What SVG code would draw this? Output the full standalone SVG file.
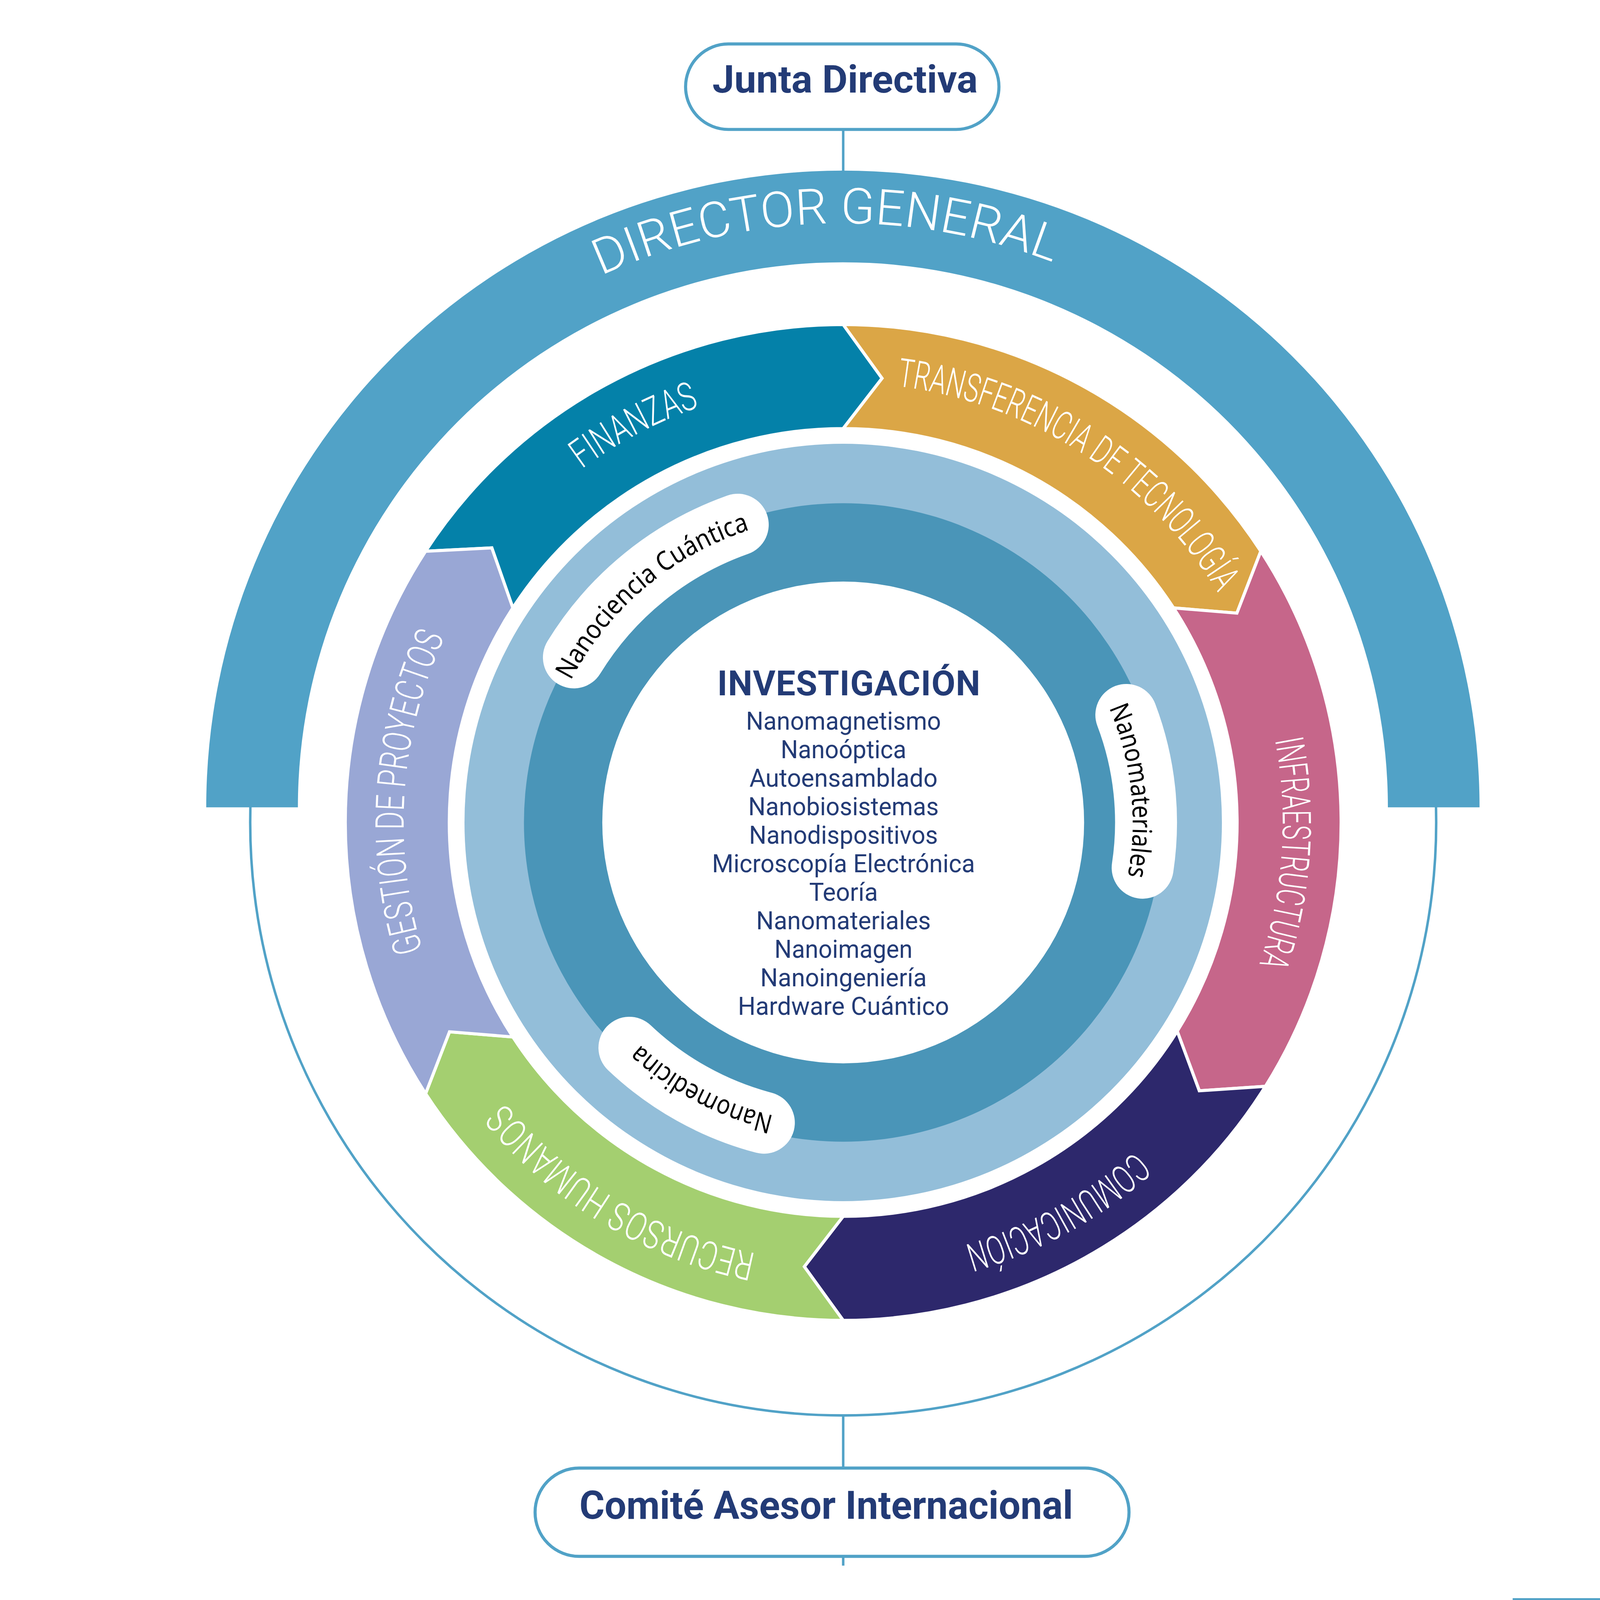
<svg xmlns="http://www.w3.org/2000/svg" width="5167" height="5167" viewBox="0 0 5167 5167">
<style>
svg{width:100vw;height:100vh}
.seg{stroke:#fff;stroke-width:10;stroke-linejoin:miter}
.seglbl{font-family:Roboto,"Liberation Sans",sans-serif;font-weight:300;font-size:128px;fill:#fff;text-anchor:middle}
.pill{fill:none;stroke:#fff;stroke-width:200;stroke-linecap:round}
.pilltxt{font-family:"Noto Sans","Liberation Sans",sans-serif;font-size:86px;fill:#000;text-anchor:middle}
.box{fill:#fff;stroke:#51A2C7;stroke-width:10}
.boxtxt{font-family:Roboto,"Liberation Sans",sans-serif;font-weight:700;fill:#233B76;text-anchor:middle}
.item{font-family:Roboto,"Liberation Sans",sans-serif;font-size:82px;fill:#233B76;text-anchor:middle}
.conn{stroke:#51A2C7;stroke-width:8;fill:none}
</style>
<defs>
<path id="pSeg" d="M2723,4076 A1420,1420 0 0 1 2723,1236 A1420,1420 0 0 1 2723,4076"/>
<path id="pDir" d="M2722,4493 A1886,1886 0 0 1 2722,721 A1886,1886 0 0 1 2722,4493"/>
<path id="pNc" d="M2723,3648 A992,992 0 0 1 2723,1664 A992,992 0 0 1 2723,3648"/>
<path id="pNm" d="M2723,3591 A935,935 0 0 1 2723,1721 A935,935 0 0 1 2723,3591"/>
<path id="pNd" d="M2723,3629 A973,973 0 0 1 2723,1683 A973,973 0 0 1 2723,3629"/>
</defs>
<rect x="0" y="0" width="5167" height="5167" fill="#fff"/>

<g id="connectors">
<circle class="conn" cx="2723" cy="2656" r="1915" stroke-width="9"/>
<line class="conn" x1="2723" y1="418" x2="2723" y2="560"/>
<line class="conn" x1="2723" y1="4571" x2="2723" y2="4741"/>
<line class="conn" x1="2723" y1="5026" x2="2723" y2="5056"/>
</g>

<g id="director-general">
<path d="M666,2607 A2056,2056 0 0 1 4778,2607 L4482,2607 A1760,1760 0 0 0 962,2607 Z" fill="#51A2C7"/>
<text font-family="Roboto,'Liberation Sans',sans-serif" font-weight="300" font-size="160" fill="#fff" text-anchor="middle"><textPath href="#pDir" startOffset="49.53%" textLength="1498" lengthAdjust="spacingAndGlyphs">DIRECTOR GENERAL</textPath></text>
</g>

<g id="junta-directiva">
<rect class="box" x="2214" y="142" width="1012" height="276" rx="138"/>
<text class="boxtxt" x="2729" y="299" font-size="123" textLength="857" lengthAdjust="spacingAndGlyphs">Junta Directiva</text>
</g>

<g id="comite-asesor">
<rect class="box" x="1728" y="4741" width="1918" height="285" rx="142"/>
<text class="boxtxt" x="2668" y="4904" font-size="127" textLength="1594" lengthAdjust="spacingAndGlyphs">Comité Asesor Internacional</text>
</g>

<g id="finanzas">
<path class="seg" fill="#0481A9" d="M1374.4,1780.2 A1608,1608 0 0 1 2723,1048 L2848.5,1221.5 L2723,1384 A1272,1272 0 0 0 1656.2,1963.2 L1588.3,1769.4 Z"/>
<text class="seglbl"><textPath href="#pSeg" startOffset="42.28%" textLength="430" lengthAdjust="spacingAndGlyphs">FINANZAS</textPath></text>
</g>

<g id="transferencia">
<path class="seg" fill="#DBA646" d="M2723,1048 A1608,1608 0 0 1 4071.6,1780.2 L3994.4,1980 L3789.8,1963.2 A1272,1272 0 0 0 2723,1384 L2848.5,1221.5 Z"/>
<text class="seglbl"><textPath href="#pSeg" startOffset="59.10%" textLength="1276" lengthAdjust="spacingAndGlyphs">TRANSFERENCIA DE TECNOLOGÍA</textPath></text>
</g>

<g id="infraestructura">
<path class="seg" fill="#C6668A" d="M4071.6,1780.2 A1608,1608 0 0 1 4086.7,3508.1 L3873,3522.6 L3801.7,3330.1 A1272,1272 0 0 0 3789.8,1963.2 L3994.4,1980 Z"/>
<text class="seglbl"><textPath href="#pSeg" startOffset="76.11%" textLength="734" lengthAdjust="spacingAndGlyphs">INFRAESTRUCTURA</textPath></text>
</g>

<g id="comunicacion">
<path class="seg" fill="#2D286C" d="M4086.7,3508.1 A1608,1608 0 0 1 2723,4264 L2597.5,4090.5 L2723,3928 A1272,1272 0 0 0 3801.7,3330.1 L3873,3522.6 Z"/>
<text class="seglbl"><textPath href="#pSeg" startOffset="92.0%" textLength="634" lengthAdjust="spacingAndGlyphs">COMUNICACIÓN</textPath></text>
</g>

<g id="recursos-humanos">
<path class="seg" fill="#A4CF70" d="M2723,4264 A1608,1608 0 0 1 1374.4,3531.8 L1451.6,3332 L1656.2,3348.8 A1272,1272 0 0 0 2723,3928 L2597.5,4090.5 Z"/>
<text class="seglbl"><textPath href="#pSeg" startOffset="8.58%" textLength="964" lengthAdjust="spacingAndGlyphs">RECURSOS HUMANOS</textPath></text>
</g>

<g id="gestion-proyectos">
<path class="seg" fill="#99A7D5" d="M1374.4,3531.8 A1608,1608 0 0 1 1374.4,1780.2 L1588.3,1769.4 L1656.2,1963.2 A1272,1272 0 0 0 1656.2,3348.8 L1451.6,3332 Z"/>
<text class="seglbl"><textPath href="#pSeg" startOffset="26.11%" textLength="1036" lengthAdjust="spacingAndGlyphs">GESTIÓN DE PROYECTOS</textPath></text>
</g>

<g id="investigacion">
<circle cx="2723" cy="2656" r="1223" fill="#93BED9"/>
<circle cx="2723" cy="2656" r="1031" fill="#4A95B8"/>
<circle cx="2723" cy="2656" r="778" fill="#fff"/>
<text x="2741" y="2246" font-family="Roboto,'Liberation Sans',sans-serif" font-weight="700" font-size="112" fill="#233B76" text-anchor="middle" textLength="849" lengthAdjust="spacing">INVESTIGACIÓN</text>
<text class="item" x="2724" y="2357" textLength="630" lengthAdjust="spacingAndGlyphs">Nanomagnetismo</text>
<text class="item" x="2724" y="2449" textLength="406" lengthAdjust="spacingAndGlyphs">Nanoóptica</text>
<text class="item" x="2724" y="2541" textLength="608" lengthAdjust="spacingAndGlyphs">Autoensamblado</text>
<text class="item" x="2724" y="2633" textLength="615" lengthAdjust="spacingAndGlyphs">Nanobiosistemas</text>
<text class="item" x="2724" y="2725" textLength="610" lengthAdjust="spacingAndGlyphs">Nanodispositivos</text>
<text class="item" x="2724" y="2817" textLength="849" lengthAdjust="spacingAndGlyphs">Microscopía Electrónica</text>
<text class="item" x="2724" y="2909" textLength="222" lengthAdjust="spacingAndGlyphs">Teoría</text>
<text class="item" x="2724" y="3001" textLength="564" lengthAdjust="spacingAndGlyphs">Nanomateriales</text>
<text class="item" x="2724" y="3093" textLength="446" lengthAdjust="spacingAndGlyphs">Nanoimagen</text>
<text class="item" x="2724" y="3185" textLength="538" lengthAdjust="spacingAndGlyphs">Nanoingeniería</text>
<text class="item" x="2724" y="3277" textLength="682" lengthAdjust="spacingAndGlyphs">Hardware Cuántico</text>
</g>

<g id="nanociencia-cuantica">
<path class="pill" d="M1853.3,2123 A1020,1020 0 0 1 2382.5,1694.5"/>
<text class="pilltxt"><textPath href="#pNc" startOffset="38.86%" textLength="775" lengthAdjust="spacingAndGlyphs">Nanociencia Cuántica</textPath></text>
</g>

<g id="nanomateriales">
<path class="pill" d="M3637.3,2308.7 A978,978 0 0 1 3690,2802.2"/>
<text class="pilltxt"><textPath href="#pNm" startOffset="73.25%" textLength="555" lengthAdjust="spacingAndGlyphs">Nanomateriales</textPath></text>
</g>

<g id="nanomedicina">
<path class="pill" d="M2466.8,3625.7 A1003,1003 0 0 1 2032.6,3383.5"/>
<text class="pilltxt"><textPath href="#pNd" startOffset="7.75%" textLength="495" lengthAdjust="spacingAndGlyphs">Nanomedicina</textPath></text>
</g>

<rect x="4885" y="5161" width="282" height="6" fill="#51A2C7"/>
</svg>
